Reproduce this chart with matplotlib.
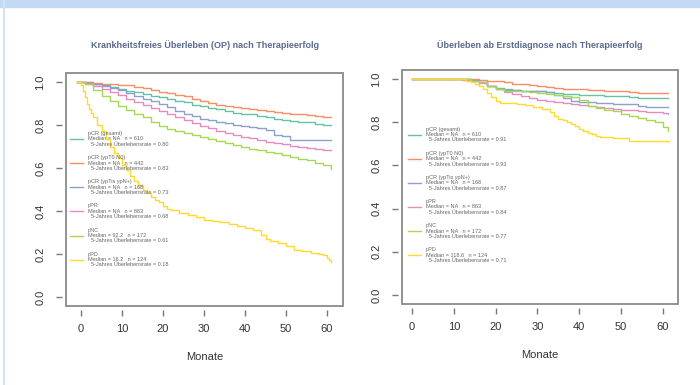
import matplotlib
matplotlib.use("Agg")
import matplotlib.pyplot as plt
from matplotlib.patches import Rectangle
from matplotlib.lines import Line2D

plt.rcParams['font.family'] = ['Liberation Sans', 'DejaVu Sans']

# Set2-like colours, one per response group
colors = ["#66C2A5", "#FC8D62", "#8DA0CB", "#E78AC3", "#A6D854", "#FFD92F"]
groups = ["pCR (gesamt)", "pCR (ypT0 N0)", "pCR (ypTis ypN+)", "pPR", "pNC", "pPD"]
n_pat = [610, 442, 168, 863, 172, 124]

# --- left: Krankheitsfreies Ueberleben (DFS) ---
dfs_median = ["NA", "NA", "NA", "NA", "92.2", "16.2"]
dfs_rate = ["0.80", "0.83", "0.73", "0.68", "0.61", "0.18"]

t_dfs = [-1, 1, 3, 5, 7, 9, 11, 13, 15, 17, 19, 21, 23, 25, 27, 29, 31, 33, 35, 37, 39, 41,
         43, 45, 47, 49, 51, 53, 55, 57, 59, 61]
dfs_pcr = [1.0, 0.998, 0.993, 0.985, 0.975, 0.968, 0.96, 0.952, 0.945, 0.937, 0.93, 0.922,
           0.912, 0.905, 0.895, 0.888, 0.88, 0.873, 0.866, 0.858, 0.853, 0.85, 0.844, 0.836,
           0.83, 0.824, 0.818, 0.815, 0.812, 0.806, 0.802, 0.80]
dfs_ypt0 = [1.0, 1.0, 0.997, 0.993, 0.99, 0.988, 0.984, 0.978, 0.97, 0.962, 0.955, 0.948,
            0.94, 0.933, 0.923, 0.913, 0.903, 0.895, 0.888, 0.882, 0.877, 0.874, 0.87, 0.865,
            0.86, 0.856, 0.852, 0.849, 0.846, 0.842, 0.838, 0.835]
dfs_yptis = [1.0, 0.995, 0.99, 0.98, 0.97, 0.962, 0.95, 0.935, 0.922, 0.91, 0.90, 0.885,
             0.865, 0.85, 0.84, 0.83, 0.822, 0.815, 0.808, 0.80, 0.795, 0.79, 0.785, 0.775,
             0.755, 0.75, 0.73, 0.73, 0.73, 0.73, 0.73, 0.73]
dfs_ppr = [1.0, 0.993, 0.982, 0.968, 0.953, 0.938, 0.923, 0.908, 0.893, 0.878, 0.864, 0.85,
           0.836, 0.822, 0.808, 0.796, 0.785, 0.774, 0.764, 0.755, 0.746, 0.738, 0.73, 0.723,
           0.716, 0.71, 0.704, 0.699, 0.694, 0.69, 0.686, 0.683]
dfs_pnc = [1.0, 0.99, 0.965, 0.935, 0.91, 0.89, 0.87, 0.85, 0.835, 0.815, 0.795, 0.78,
           0.77, 0.762, 0.755, 0.745, 0.735, 0.725, 0.715, 0.707, 0.70, 0.69, 0.682, 0.675,
           0.668, 0.66, 0.652, 0.642, 0.635, 0.625, 0.612, 0.595]

t_dfs_ppd = [-1, 0, 0.5, 1, 1.5, 2, 2.5, 3, 4, 5, 6, 7, 8, 9, 10, 11, 12, 13, 14, 15, 16, 17,
             18, 19, 20, 21, 22, 24, 26, 28, 30, 32, 34, 36, 38, 40, 42, 44, 45, 46, 48, 50,
             52, 54, 56, 58, 59, 60, 60.5, 61]
dfs_ppd = [1.0, 0.985, 0.96, 0.93, 0.90, 0.875, 0.855, 0.835, 0.80, 0.77, 0.735, 0.70, 0.67,
           0.645, 0.615, 0.59, 0.565, 0.54, 0.52, 0.50, 0.485, 0.465, 0.45, 0.44, 0.425, 0.41,
           0.405, 0.39, 0.38, 0.37, 0.36, 0.355, 0.35, 0.34, 0.33, 0.32, 0.31, 0.29, 0.27,
           0.26, 0.25, 0.235, 0.22, 0.212, 0.205, 0.198, 0.195, 0.18, 0.17, 0.165]

# --- right: Ueberleben ab Erstdiagnose (OS) ---
os_median = ["NA", "NA", "NA", "NA", "NA", "118.6"]
os_rate = ["0.91", "0.93", "0.87", "0.84", "0.77", "0.71"]

t_os = [0, 2, 4, 6, 8, 10, 12, 14, 16, 18, 20, 22, 24, 26, 28, 30, 32, 34, 36, 38, 40, 42,
        44, 46, 48, 50, 52, 54, 56, 58, 60, 61.2]
os_pcr = [1, 1, 1, 1, 1, 1, 1, 0.995, 0.985, 0.97, 0.957, 0.953, 0.95, 0.947, 0.945, 0.943,
          0.94, 0.935, 0.93, 0.929, 0.928, 0.927, 0.925, 0.923, 0.922, 0.92, 0.918, 0.914,
          0.912, 0.91, 0.91, 0.91]
os_ypt0 = [1, 1, 1, 1, 1, 1, 1, 1, 0.997, 0.993, 0.99, 0.985, 0.978, 0.975, 0.972, 0.968,
           0.965, 0.96, 0.955, 0.953, 0.952, 0.95, 0.948, 0.947, 0.946, 0.944, 0.94, 0.936,
           0.934, 0.934, 0.934, 0.934]
os_yptis = [1, 1, 1, 1, 1, 1, 1, 0.995, 0.985, 0.97, 0.955, 0.95, 0.948, 0.946, 0.945, 0.943,
            0.94, 0.925, 0.91, 0.90, 0.895, 0.892, 0.89, 0.888, 0.886, 0.885, 0.884, 0.875,
            0.869, 0.869, 0.869, 0.869]
os_ppr = [1, 1, 1, 1, 1, 1, 0.997, 0.99, 0.98, 0.968, 0.955, 0.94, 0.93, 0.92, 0.912, 0.905,
          0.898, 0.893, 0.89, 0.885, 0.88, 0.875, 0.87, 0.866, 0.862, 0.858, 0.855, 0.852,
          0.849, 0.846, 0.842, 0.84]
os_pnc = [1, 1, 1, 1, 1, 1, 1, 0.993, 0.985, 0.97, 0.955, 0.947, 0.945, 0.943, 0.94, 0.935,
          0.932, 0.928, 0.922, 0.915, 0.905, 0.877, 0.865, 0.855, 0.85, 0.84, 0.83, 0.82,
          0.812, 0.80, 0.78, 0.76]

t_os_ppd = [0, 12, 13, 14, 15, 16, 17, 18, 19, 20, 21, 23, 25, 27, 29, 31, 33, 34, 35, 36,
            37, 38, 39, 40, 41, 42, 43, 44, 45, 48, 52, 56, 61.2]
os_ppd = [1, 1, 0.99, 0.985, 0.975, 0.97, 0.955, 0.935, 0.915, 0.90, 0.89, 0.888, 0.885,
          0.88, 0.872, 0.86, 0.846, 0.83, 0.815, 0.81, 0.80, 0.79, 0.784, 0.77, 0.76, 0.75,
          0.745, 0.735, 0.73, 0.725, 0.715, 0.712, 0.71]

xticks = [0, 10, 20, 30, 40, 50, 60]
yticks = [0.0, 0.2, 0.4, 0.6, 0.8, 1.0]

fig = plt.figure(figsize=(7, 3.85), dpi=100)
fig.patch.set_facecolor("white")
# slide frame
fig.add_artist(Rectangle((0, 1 - 7 / 385), 1, 7 / 385, transform=fig.transFigure, color="#c3d9f5", zorder=0))
fig.add_artist(Line2D([3.5 / 700, 3.5 / 700], [0, 1], transform=fig.transFigure, color="#d3e3f7", lw=1.5))


def km_panel(ax, curves, medians, rates, xlim, title, title_y, leg_xy):
    for (t, s), c in zip(curves, colors):
        ax.plot(t, s, drawstyle="steps-post", color=c, lw=1.0)
    ax.set_xlim(*xlim)
    ax.set_ylim(-0.042, 1.042)
    ax.set_xticks(xticks)
    ax.set_yticks(yticks)
    ax.set_yticklabels([f"{v:.1f}" for v in yticks])
    for side in ["top", "right"]:
        ax.spines[side].set_visible(False)
    for side in ["bottom", "left"]:
        ax.spines[side].set_position(("outward", 3))
        ax.spines[side].set_color("none")
    ax.tick_params(direction="out", length=4, width=1, color="#777777", labelsize=8,
                   labelcolor="#333333")
    ax.tick_params(axis="x", pad=6)
    ax.tick_params(axis="y", pad=8, labelrotation=90)
    for lab in ax.get_yticklabels():
        lab.set_va("center")
    ax.add_patch(Rectangle((0, 0), 1, 1, transform=ax.transAxes, fill=False,
                           ec="#8a8a8a", lw=1.3, clip_on=False))
    ax.set_xlabel("Monate", fontsize=8, color="#333333", labelpad=13)
    ax.text(0.5, title_y, title, transform=ax.transAxes, ha="center", va="center",
            fontsize=6.5, fontweight="bold", color="#5a6b8f")

    handles = [Line2D([], [], color=c, lw=1.0) for c in colors]
    labels = [f"{g}\nMedian = {m}   n = {n}\n  5-Jahres Überlebensrate = {r}"
              for g, m, n, r in zip(groups, medians, n_pat, rates)]
    leg = ax.legend(handles, labels, loc="upper left", bbox_to_anchor=leg_xy, frameon=False,
                    fontsize=4.0, handlelength=2.3, handletextpad=0.9, labelspacing=1.5,
                    borderpad=0, borderaxespad=0)
    for txt in leg.get_texts():
        txt.set_color("#666666")
        txt.set_linespacing(1.1)


ax1 = fig.add_axes([66 / 700, 1 - 306 / 385, 277 / 700, 233 / 385])
km_panel(ax1,
         [(t_dfs, dfs_pcr), (t_dfs, dfs_ypt0), (t_dfs, dfs_yptis), (t_dfs, dfs_ppr),
          (t_dfs, dfs_pnc), (t_dfs_ppd, dfs_ppd)],
         dfs_median, dfs_rate, (-3.66, 63.9),
         "Krankheitsfreies Überleben (OP) nach Therapieerfolg", 1.12, (0.015, 0.751))

ax2 = fig.add_axes([402 / 700, 1 - 304 / 385, 276 / 700, 234 / 385])
km_panel(ax2,
         [(t_os, os_pcr), (t_os, os_ypt0), (t_os, os_yptis), (t_os, os_ppr),
          (t_os, os_pnc), (t_os_ppd, os_ppd)],
         os_median, os_rate, (-2.4, 63.6),
         "Überleben ab Erstdiagnose nach Therapieerfolg", 1.107, (0.022, 0.758))

fig.savefig("out.png", dpi=100)
